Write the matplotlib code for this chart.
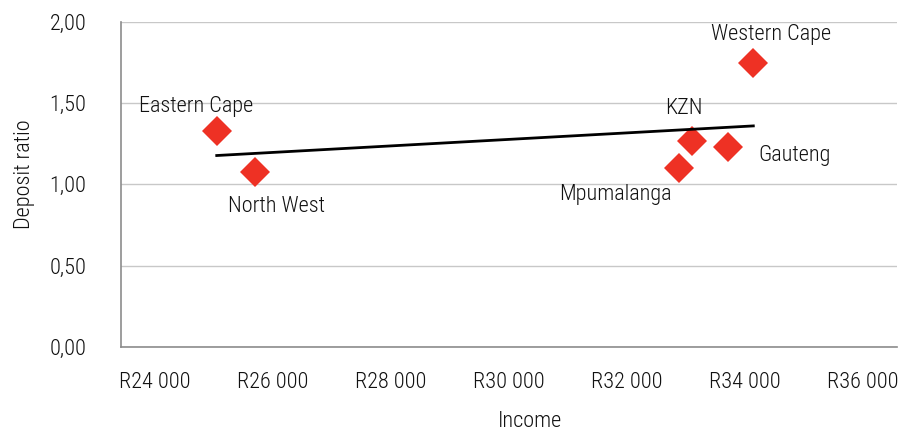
import numpy as np
import matplotlib
matplotlib.use("Agg")
import matplotlib.pyplot as plt
from matplotlib.ticker import FuncFormatter

plt.rcParams['font.family'] = ['Roboto Condensed', 'Liberation Sans Narrow', 'Liberation Sans', 'DejaVu Sans']
plt.rcParams['font.weight'] = 'light'

# Provincial average income vs deposit ratio
provinces = ["Eastern Cape", "North West", "Mpumalanga", "KZN", "Gauteng", "Western Cape"]
income = [25054, 25702, 32885, 33105, 33720, 34144]
deposit_ratio = [1.327, 1.077, 1.102, 1.266, 1.231, 1.743]

x_ticks = [24000, 26000, 28000, 30000, 32000, 34000, 36000]
y_ticks = [0.0, 0.5, 1.0, 1.5, 2.0]

# label offsets in pixels (dx, dy) from each marker
label_offsets = {
    "Eastern Cape": (-21, 25),
    "North West": (22, -35),
    "Mpumalanga": (-64, -27),
    "KZN": (-8, 32),
    "Gauteng": (66, -9),
    "Western Cape": (18, 29),
}

FS = 16

fig = plt.figure(figsize=(9.17, 4.33), dpi=100)
ax = fig.add_axes([0.132, 0.1986, 0.846, 0.7517])

red = "#EE3124"
ax.plot(income, deposit_ratio, linestyle="none", marker="D", markersize=15,
        markerfacecolor=red, markeredgewidth=0, zorder=3)

# linear trend line across the data range
x_arr = np.array(income, dtype=float)
slope, intercept = np.polyfit(x_arr, np.array(deposit_ratio), 1)
xs = np.array([x_arr.min(), x_arr.max()])
ax.plot(xs, slope * xs + intercept, color="black", linewidth=2, zorder=4)

for name, xv, yv in zip(provinces, income, deposit_ratio):
    dx, dy = label_offsets[name]
    ax.annotate(name, (xv, yv), xytext=(dx, dy), textcoords="offset pixels",
                ha="center", va="center", fontsize=FS, color="#111111")

ax.set_xlim(23433, 36575)
ax.set_ylim(0, 2.0)
ax.set_xticks(x_ticks)
ax.set_yticks(y_ticks)
ax.xaxis.set_major_formatter(FuncFormatter(lambda v, p: "R" + f"{int(v):,}".replace(",", " ")))
ax.yaxis.set_major_formatter(FuncFormatter(lambda v, p: f"{v:.2f}".replace(".", ",")))
ax.tick_params(axis="both", length=0, labelsize=FS, colors="#111111")
ax.tick_params(axis="x", pad=18)
ax.tick_params(axis="y", pad=25)

ax.grid(axis="y", color="#c8c8c8", linewidth=1)
ax.set_axisbelow(True)
for side in ("top", "right"):
    ax.spines[side].set_visible(False)
for side in ("left", "bottom"):
    ax.spines[side].set_color("#8c8c8c")
    ax.spines[side].set_linewidth(1.2)

ax.set_xlabel("Income", fontsize=FS, color="#111111", fontweight="light")
ax.set_ylabel("Deposit ratio", fontsize=FS, color="#111111", fontweight="light")
ax.xaxis.set_label_coords(0.527, -0.23)
ax.yaxis.set_label_coords(-0.125, 0.53)
ax.xaxis.label.set_va("center")
ax.yaxis.label.set_va("center")

fig.savefig("out.png", dpi=100)
